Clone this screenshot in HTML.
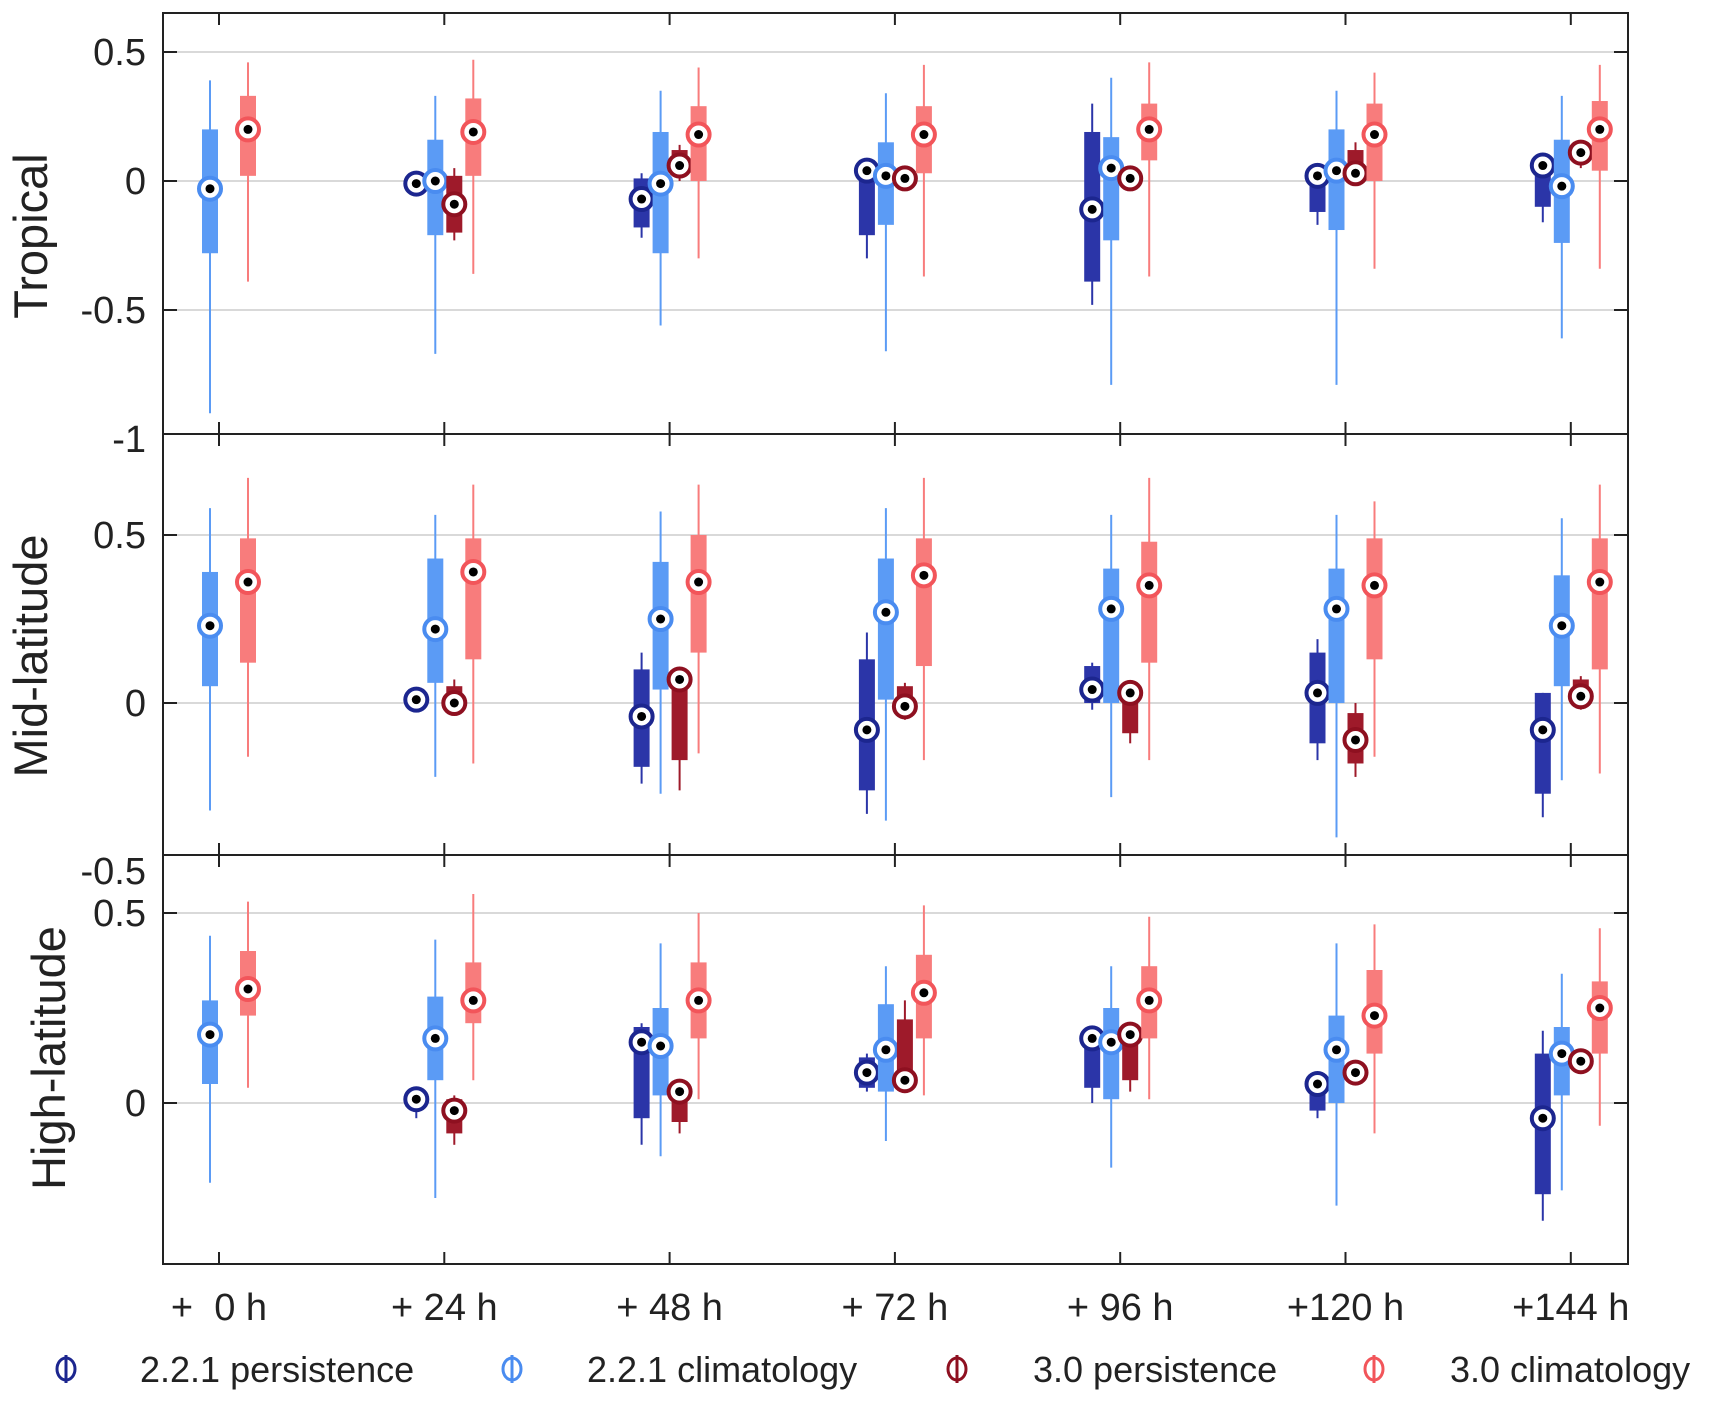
<!DOCTYPE html>
<html><head><meta charset="utf-8">
<style>
html,body{margin:0;padding:0;background:#fff;}
svg{display:block;font-family:"Liberation Sans",sans-serif;}
</style></head>
<body>
<svg id="chart" width="1720" height="1402" viewBox="0 0 1720 1402" xmlns="http://www.w3.org/2000/svg"></svg>
<script>
// Categories
const categories = ["+\u00a0\u00a00 h", "+ 24 h", "+ 48 h", "+ 72 h", "+ 96 h", "+120 h", "+144 h"];
const seriesNames = ["2.2.1 persistence", "2.2.1 climatology", "3.0 persistence", "3.0 climatology"];
// each entry: [whiskerLow, boxLow, median, boxHigh, whiskerHigh]; null = missing
const tropicalPers221 = [null, [-0.04,-0.03,-0.01,0.01,0.02], [-0.22,-0.18,-0.07,0.01,0.03], [-0.30,-0.21,0.04,0.05,0.06], [-0.48,-0.39,-0.11,0.19,0.30], [-0.17,-0.12,0.02,0.04,0.06], [-0.16,-0.10,0.06,0.06,0.08]];
const tropicalClim221 = [[-0.90,-0.28,-0.03,0.20,0.39], [-0.67,-0.21,0.0,0.16,0.33], [-0.56,-0.28,-0.01,0.19,0.35], [-0.66,-0.17,0.02,0.15,0.34], [-0.79,-0.23,0.05,0.17,0.40], [-0.79,-0.19,0.04,0.20,0.35], [-0.61,-0.24,-0.02,0.16,0.33]];
const tropicalPers30 = [null, [-0.23,-0.20,-0.09,0.02,0.05], [0.0,0.02,0.06,0.12,0.14], [-0.02,-0.01,0.01,0.03,0.04], [-0.02,-0.01,0.01,0.03,0.04], [-0.01,0.01,0.03,0.12,0.15], [0.05,0.07,0.11,0.12,0.13]];
const tropicalClim30 = [[-0.39,0.02,0.20,0.33,0.46], [-0.36,0.02,0.19,0.32,0.47], [-0.30,0.0,0.18,0.29,0.44], [-0.37,0.03,0.18,0.29,0.45], [-0.37,0.08,0.20,0.30,0.46], [-0.34,0.0,0.18,0.30,0.42], [-0.34,0.04,0.20,0.31,0.45]];
const midPers221 = [null, [-0.02,-0.01,0.01,0.02,0.03], [-0.24,-0.19,-0.04,0.10,0.15], [-0.33,-0.26,-0.08,0.13,0.21], [-0.02,0.0,0.04,0.11,0.12], [-0.17,-0.12,0.03,0.15,0.19], [-0.34,-0.27,-0.08,0.03,0.03]];
const midClim221 = [[-0.32,0.05,0.23,0.39,0.58], [-0.22,0.06,0.22,0.43,0.56], [-0.27,0.04,0.25,0.42,0.57], [-0.35,0.01,0.27,0.43,0.58], [-0.28,0.0,0.28,0.40,0.56], [-0.40,0.0,0.28,0.40,0.56], [-0.23,0.05,0.23,0.38,0.55]];
const midPers30 = [null, [-0.02,-0.01,0.0,0.05,0.07], [-0.26,-0.17,0.07,0.08,0.09], [-0.05,-0.03,-0.01,0.05,0.06], [-0.12,-0.09,0.03,0.03,0.04], [-0.22,-0.18,-0.11,-0.03,0.0], [-0.02,-0.01,0.02,0.07,0.08]];
const midClim30 = [[-0.16,0.12,0.36,0.49,0.67], [-0.18,0.13,0.39,0.49,0.65], [-0.15,0.15,0.36,0.50,0.65], [-0.17,0.11,0.38,0.49,0.67], [-0.17,0.12,0.35,0.48,0.67], [-0.16,0.13,0.35,0.49,0.60], [-0.21,0.10,0.36,0.49,0.65]];
const highPers221 = [null, [-0.04,-0.01,0.01,0.02,0.03], [-0.11,-0.04,0.16,0.20,0.21], [0.03,0.04,0.08,0.12,0.13], [0.0,0.04,0.17,0.18,0.19], [-0.04,-0.02,0.05,0.06,0.07], [-0.31,-0.24,-0.04,0.13,0.19]];
const highClim221 = [[-0.21,0.05,0.18,0.27,0.44], [-0.25,0.06,0.17,0.28,0.43], [-0.14,0.02,0.15,0.25,0.42], [-0.10,0.03,0.14,0.26,0.36], [-0.17,0.01,0.16,0.25,0.36], [-0.27,0.0,0.14,0.23,0.42], [-0.23,0.02,0.13,0.20,0.34]];
const highPers30 = [null, [-0.11,-0.08,-0.02,0.01,0.02], [-0.08,-0.05,0.03,0.05,0.06], [0.04,0.05,0.06,0.22,0.27], [0.03,0.06,0.18,0.20,0.21], [0.05,0.06,0.08,0.10,0.10], [0.09,0.10,0.11,0.12,0.13]];
const highClim30 = [[0.04,0.23,0.30,0.40,0.53], [0.06,0.21,0.27,0.37,0.55], [0.01,0.17,0.27,0.37,0.50], [0.02,0.17,0.29,0.39,0.52], [0.01,0.17,0.27,0.36,0.49], [-0.08,0.13,0.23,0.35,0.47], [-0.06,0.13,0.25,0.32,0.46]];
// Tick labels
const tropicalTicks = [0.5, 0, -0.5, -1];
const midTicks = [0.5, 0, -0.5];
const highTicks = [0.5, 0];

const svg = document.getElementById('chart');
const NS = 'http://www.w3.org/2000/svg';
function mk(tag, attrs, parent){const e=document.createElementNS(NS,tag);for(const k in attrs)e.setAttribute(k,attrs[k]);(parent||svg).appendChild(e);return e;}

const plotL=163, plotR=1628;
const tick0=219, tickStep=225.3;
function xScale(i){return tick0+i*tickStep;}
const offsets=[-28,-9,10,29];
const boxColors=['#2b35a8','#5b9bf5','#9e1a2a','#f87c7c'];
const markColors=['#1c268f','#4a8cf0','#8e1020','#f2555a'];

const panels=[
 {name:'tropical',label:'Tropical',top:13,bottom:434,zeroY:181,pxPerUnit:258,ticks:tropicalTicks,series:[tropicalPers221,tropicalClim221,tropicalPers30,tropicalClim30],lx:31,ly:236},
 {name:'mid-latitude',label:'Mid-latitude',top:434,bottom:855,zeroY:703,pxPerUnit:336,ticks:midTicks,series:[midPers221,midClim221,midPers30,midClim30],lx:31,ly:656},
 {name:'high-latitude',label:'High-latitude',top:855,bottom:1264,zeroY:1103,pxPerUnit:380,ticks:highTicks,series:[highPers221,highClim221,highPers30,highClim30],lx:49,ly:1058}
];

panels.forEach(p=>{
  const y=v=>p.zeroY-v*p.pxPerUnit;
  const g=mk('g',{});
  
  
  p.ticks.forEach(t=>{
    const yy=y(t);
    if(yy>p.top+2 && yy<p.bottom-2){
      const gl=mk('line',{x1:plotL,x2:plotR,y1:yy,y2:yy,stroke:'#d9d9d9','stroke-width':2},g);
      
      
      mk('line',{x1:plotL,x2:plotL+14,y1:yy,y2:yy,stroke:'#222','stroke-width':2},g);
      mk('line',{x1:plotR-14,x2:plotR,y1:yy,y2:yy,stroke:'#222','stroke-width':2},g);
    }
    const tl=mk('text',{x:146,y:yy+13,'text-anchor':'end','font-size':38,fill:'#222'},g);
    tl.textContent=String(t);
    
    
  });
  categories.forEach((c,i)=>{
    const xx=xScale(i);
    mk('line',{x1:xx,x2:xx,y1:p.top,y2:p.top+12,stroke:'#222','stroke-width':2},g);
    mk('line',{x1:xx,x2:xx,y1:p.bottom-12,y2:p.bottom,stroke:'#222','stroke-width':2},g);
  });
  p.series.forEach((ser,s)=>{
    ser.forEach((d,i)=>{
      if(!d) return;
      const cx=xScale(i)+offsets[s];
      const bg=mk('g',{},g);
      
      
      mk('line',{x1:cx,x2:cx,y1:y(d[0]),y2:y(d[4]),stroke:boxColors[s],'stroke-width':2},bg);
      mk('rect',{x:cx-8,y:y(d[3]),width:16,height:Math.max(1,y(d[1])-y(d[3])),fill:boxColors[s]},bg);
      mk('circle',{cx:cx,cy:y(d[2]),r:11,fill:'#fff',stroke:markColors[s],'stroke-width':4},bg);
      mk('circle',{cx:cx,cy:y(d[2]),r:4.5,fill:'#000'},bg);
    });
  });
  mk('rect',{x:plotL,y:p.top,width:plotR-plotL,height:p.bottom-p.top,fill:'none',stroke:'#222','stroke-width':2},g);
  const lab=mk('text',{x:0,y:0,'text-anchor':'middle','font-size':47,fill:'#222',transform:`translate(${p.lx+16},${p.ly}) rotate(-90)`},g);
  lab.textContent=p.label;
  
  
});

categories.forEach((c,i)=>{
  const t=mk('text',{x:xScale(i),y:1320,'text-anchor':'middle','font-size':38,fill:'#222'});
  t.textContent=c;
  
  
});

const legMarkX=[66,512,957,1374], legTextX=[140,587,1033,1450];
seriesNames.forEach((n,s)=>{
  const lg=mk('g',{});
  
  
  mk('ellipse',{cx:legMarkX[s],cy:1369,rx:9,ry:11,fill:'none',stroke:markColors[s],'stroke-width':3},lg);
  mk('line',{x1:legMarkX[s],x2:legMarkX[s],y1:1355,y2:1383,stroke:markColors[s],'stroke-width':3},lg);
  const t=mk('text',{x:legTextX[s],y:1382,'font-size':36,fill:'#222'},lg);
  t.textContent=n;
});
</script>
</body></html>
